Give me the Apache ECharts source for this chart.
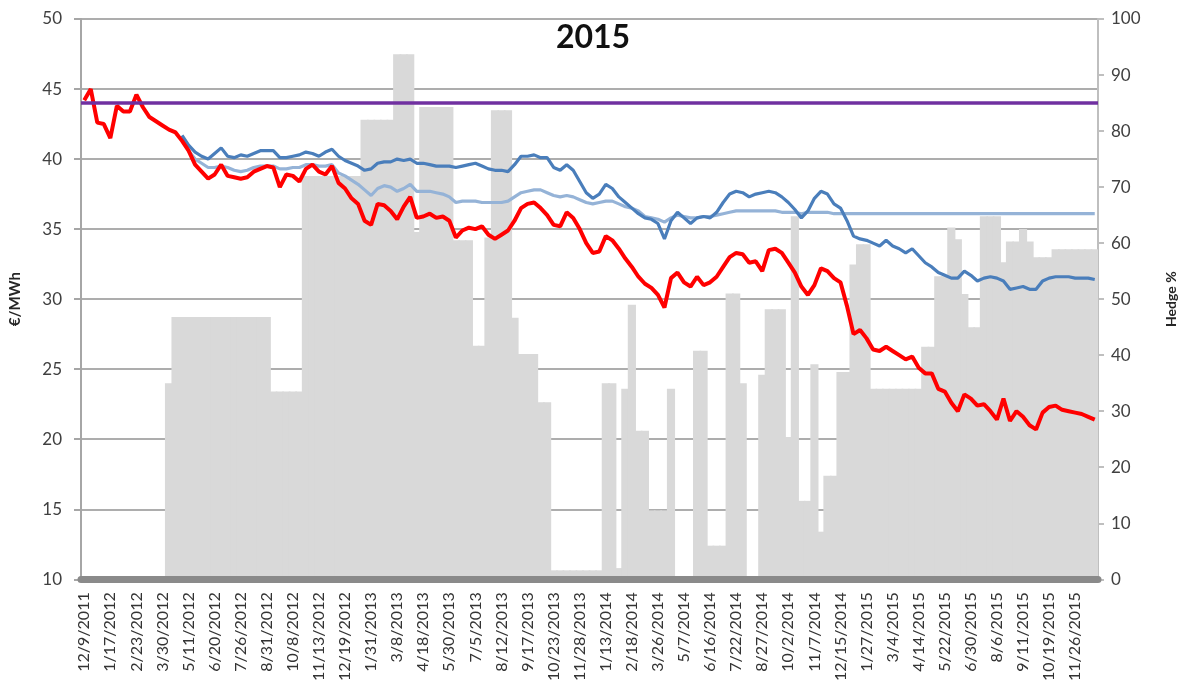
<!DOCTYPE html>
<html>
<head>
<meta charset="utf-8">
<script src="https://cdn.jsdelivr.net/npm/echarts@6.0.0/dist/echarts.min.js"></script>
<style>
html,body{margin:0;padding:0;background:#fff;}
#chart{width:1186px;height:684px;}
</style>
</head>
<body>
<div id="chart"></div>
<script>
// Tick labels (one every 4 samples)
const tickLabels = ['12/9/2011','1/17/2012','2/23/2012','3/30/2012','5/11/2012','6/20/2012','7/26/2012','8/31/2012','10/8/2012','11/13/2012','12/19/2012','1/31/2013','3/8/2013','4/18/2013','5/30/2013','7/5/2013','8/12/2013','9/17/2013','10/23/2013','11/28/2013','1/13/2014','2/18/2014','3/26/2014','5/7/2014','6/16/2014','7/22/2014','8/27/2014','10/2/2014','11/7/2014','12/15/2014','1/27/2015','3/4/2015','4/14/2015','5/22/2015','6/30/2015','8/6/2015','9/11/2015','10/19/2015','11/26/2015'];
const samplesPerTick = 4;

// Price series (€/MWh), one value per sample
const redPrice = [44.2,45.0,42.6,42.5,41.5,43.8,43.4,43.4,44.6,43.7,
 43.0,42.7,42.4,42.1,41.9,41.3,40.6,39.6,39.1,38.6,
 38.9,39.6,38.8,38.7,38.6,38.7,39.1,39.3,39.5,39.4,
 38.0,38.9,38.8,38.4,39.3,39.6,39.1,38.9,39.5,38.3,
 37.9,37.2,36.8,35.6,35.3,36.8,36.7,36.3,35.7,36.6,
 37.3,35.8,35.9,36.1,35.8,35.9,35.6,34.4,34.9,35.1,
 35.0,35.2,34.6,34.3,34.6,34.9,35.6,36.5,36.8,36.9,
 36.5,36.0,35.3,35.2,36.2,35.8,35.0,34.0,33.3,33.4,
 34.5,34.2,33.6,32.9,32.3,31.6,31.1,30.8,30.3,29.4,
 31.5,31.9,31.2,30.9,31.6,31.0,31.2,31.6,32.3,33.0,
 33.3,33.2,32.6,32.7,32.0,33.5,33.6,33.3,32.6,31.9,
 30.9,30.3,31.0,32.2,32.0,31.5,31.2,29.5,27.5,27.8,
 27.2,26.4,26.3,26.6,26.3,26.0,25.7,25.9,25.1,24.7,
 24.7,23.6,23.4,22.6,22.0,23.2,22.9,22.4,22.5,22.0,
 21.4,22.9,21.3,22.0,21.6,21.0,20.7,21.9,22.3,22.4,
 22.1,22.0,21.9,21.8,21.6,21.4];

const bluePrice = [null,null,null,null,null,null,null,null,null,null,null,null,null,null,null,
 41.7,41.0,40.5,40.2,40.0,40.4,40.8,40.2,40.1,40.3,
 40.2,40.4,40.6,40.6,40.6,40.1,40.1,40.2,40.3,40.5,
 40.4,40.2,40.5,40.7,40.2,39.9,39.7,39.5,39.2,39.3,
 39.7,39.8,39.8,40.0,39.9,40.0,39.7,39.7,39.6,39.5,
 39.5,39.5,39.4,39.5,39.6,39.7,39.5,39.3,39.2,39.2,
 39.1,39.6,40.2,40.2,40.3,40.1,40.1,39.4,39.2,39.6,
 39.2,38.4,37.6,37.2,37.5,38.2,37.9,37.3,36.9,36.5,
 36.1,35.8,35.7,35.4,34.3,35.6,36.2,35.8,35.4,35.8,
 35.9,35.8,36.2,36.9,37.5,37.7,37.6,37.3,37.5,37.6,
 37.7,37.6,37.3,36.9,36.4,35.8,36.3,37.2,37.7,37.5,
 36.8,36.5,35.6,34.5,34.3,34.2,34.0,33.8,34.2,33.8,
 33.6,33.3,33.6,33.1,32.6,32.3,31.9,31.7,31.5,31.5,
 32.0,31.7,31.3,31.5,31.6,31.5,31.3,30.7,30.8,30.9,
 30.7,30.7,31.3,31.5,31.6,31.6,31.6,31.5,31.5,31.5,31.4];

const lightBluePrice = [null,null,null,null,null,null,null,null,null,null,null,null,null,null,null,
 41.5,40.6,40.0,39.7,39.4,39.4,39.5,39.4,39.2,39.1,
 39.2,39.4,39.5,39.5,39.5,39.3,39.3,39.4,39.4,39.6,
 39.6,39.5,39.5,39.6,39.0,38.8,38.5,38.2,37.8,37.4,
 37.9,38.1,38.0,37.7,37.9,38.2,37.7,37.7,37.7,37.6,
 37.5,37.3,36.9,37.0,37.0,37.0,36.9,36.9,36.9,36.9,
 37.0,37.3,37.6,37.7,37.8,37.8,37.6,37.4,37.3,37.4,
 37.3,37.1,36.9,36.8,36.9,37.0,37.0,36.8,36.6,36.5,
 36.3,35.9,35.8,35.7,35.5,35.8,36.0,35.9,35.8,35.8,
 35.9,35.9,36.0,36.1,36.2,36.3,36.3,36.3,36.3,36.3,
 36.3,36.3,36.2,36.2,36.2,36.1,36.2,36.2,36.2,36.2,
 36.1,36.1,36.1,36.1,36.1,36.1,36.1,36.1,36.1,36.1,
 36.1,36.1,36.1,36.1,36.1,36.1,36.1,36.1,36.1,36.1,
 36.1,36.1,36.1,36.1,36.1,36.1,36.1,36.1,36.1,36.1,
 36.1,36.1,36.1,36.1,36.1,36.1,36.1,36.1,36.1,36.1,36.1];

const targetPrice = 44;

// Hedge % (right axis), one value per sample
const hedgePct = [0,0,0,0,0,0,0,0,0,0,0,0,0,35,
 46.8,46.8,46.8,46.8,46.8,46.8,46.8,46.8,46.8,46.8,46.8,46.8,46.8,46.8,46.8,
 33.5,33.5,33.5,33.5,33.5,
 72,72,72,72,72,72,72,72,72,
 82,82,82,82,82,
 93.7,93.7,93.7,62,
 84.3,84.3,84.3,84.3,84.3,
 60.5,60.5,60.5,41.7,41.7,61,
 83.7,83.7,83.7,46.7,40.2,40.2,40.2,31.6,31.6,
 1.6,1.6,1.6,1.6,1.6,1.6,1.6,1.6,
 35,35,2,34,49,26.5,26.5,12.3,12.3,12.3,34,0,0,0,
 40.8,40.8,6,6,6,51,51,35,0,0,36.5,48.2,48.2,48.2,
 25.4,64.8,14,14,38.4,8.5,18.5,18.5,37,37,56.2,59.8,59.8,
 34,34,34,34,34,34,34,34,
 41.5,41.5,54.1,54.1,62.8,60.7,50.9,45,45,
 64.8,64.8,64.8,56.6,60.3,60.3,62.5,60.3,57.5,57.5,57.5,
 58.9,58.9,58.9,58.9,58.9,58.9,58.9];

const categories = redPrice.map((_, i) => String(i));
const FONT = 'Lato, "Open Sans", sans-serif';

const chart = echarts.init(document.getElementById('chart'), null, {renderer: 'canvas'});
chart.setOption({
  animation: false,
  backgroundColor: '#ffffff',
  title: {
    text: '2015', left: 'center', top: 17,
    textStyle: {fontFamily: FONT, fontWeight: 'bold', fontSize: 32, color: '#111'}
  },
  grid: {left: 77, right: 81, top: 19, bottom: 103},
  xAxis: {
    type: 'category', data: categories, boundaryGap: true, z: 10, offset: 3,
    axisLine: {lineStyle: {color: '#8A8A8A', width: 7}},
    axisTick: {show: false},
    splitLine: {show: false},
    axisLabel: {
      interval: samplesPerTick - 1, rotate: 90, margin: 10,
      fontFamily: FONT, fontSize: 16, color: '#333',
      formatter: (v, idx) => (idx % samplesPerTick === 0 ? (tickLabels[idx / samplesPerTick] || '') : '')
    }
  },
  yAxis: [
    {
      type: 'value', min: 10, max: 50, interval: 5, position: 'left',
      name: '€/MWh', nameLocation: 'middle', nameGap: 58, nameRotate: 90,
      nameTextStyle: {fontFamily: FONT, fontWeight: 'bold', fontSize: 15, color: '#262626'},
      axisLine: {show: true, lineStyle: {color: '#A6A6A6', width: 2}},
      axisTick: {show: true, length: 7, lineStyle: {color: '#A6A6A6', width: 2}},
      axisLabel: {margin: 19, fontFamily: FONT, fontSize: 17, color: '#404040'},
      splitLine: {show: true, lineStyle: {color: '#ADADAD', width: 2}}
    },
    {
      type: 'value', min: 0, max: 100, interval: 10, position: 'right',
      name: 'Hedge %', nameLocation: 'middle', nameGap: 66, nameRotate: 90,
      nameTextStyle: {fontFamily: FONT, fontWeight: 'bold', fontSize: 14, color: '#262626'},
      axisLine: {show: true, lineStyle: {color: '#BFBFBF', width: 2}},
      axisTick: {show: true, length: 6, lineStyle: {color: '#BFBFBF', width: 2}},
      axisLabel: {margin: 13, fontFamily: FONT, fontSize: 17, color: '#404040'},
      splitLine: {show: false}
    }
  ],
  series: [
    {
      name: 'Hedge %', type: 'bar', yAxisIndex: 1, data: hedgePct,
      barWidth: '125%',
      itemStyle: {color: '#D9D9D9'},
      silent: true
    },
    {
      name: 'Forward (hedged)', type: 'line', data: lightBluePrice, yAxisIndex: 0,
      symbol: 'none', showSymbol: false, connectNulls: false,
      lineStyle: {color: '#95B3D7', width: 3.2},
      markLine: {
        symbol: 'none', silent: true, label: {show: false},
        lineStyle: {color: '#7030A0', width: 3.5, type: 'solid'},
        data: [{yAxis: targetPrice}]
      }
    },
    {
      name: 'Portfolio', type: 'line', data: bluePrice, yAxisIndex: 0,
      symbol: 'none', showSymbol: false, connectNulls: false,
      lineStyle: {color: '#4A7EBB', width: 3.2}
    },
    {
      name: 'Market', type: 'line', data: redPrice, yAxisIndex: 0,
      symbol: 'none', showSymbol: false,
      lineStyle: {color: '#FF0000', width: 4}
    }
  ]
});
</script>
</body>
</html>
